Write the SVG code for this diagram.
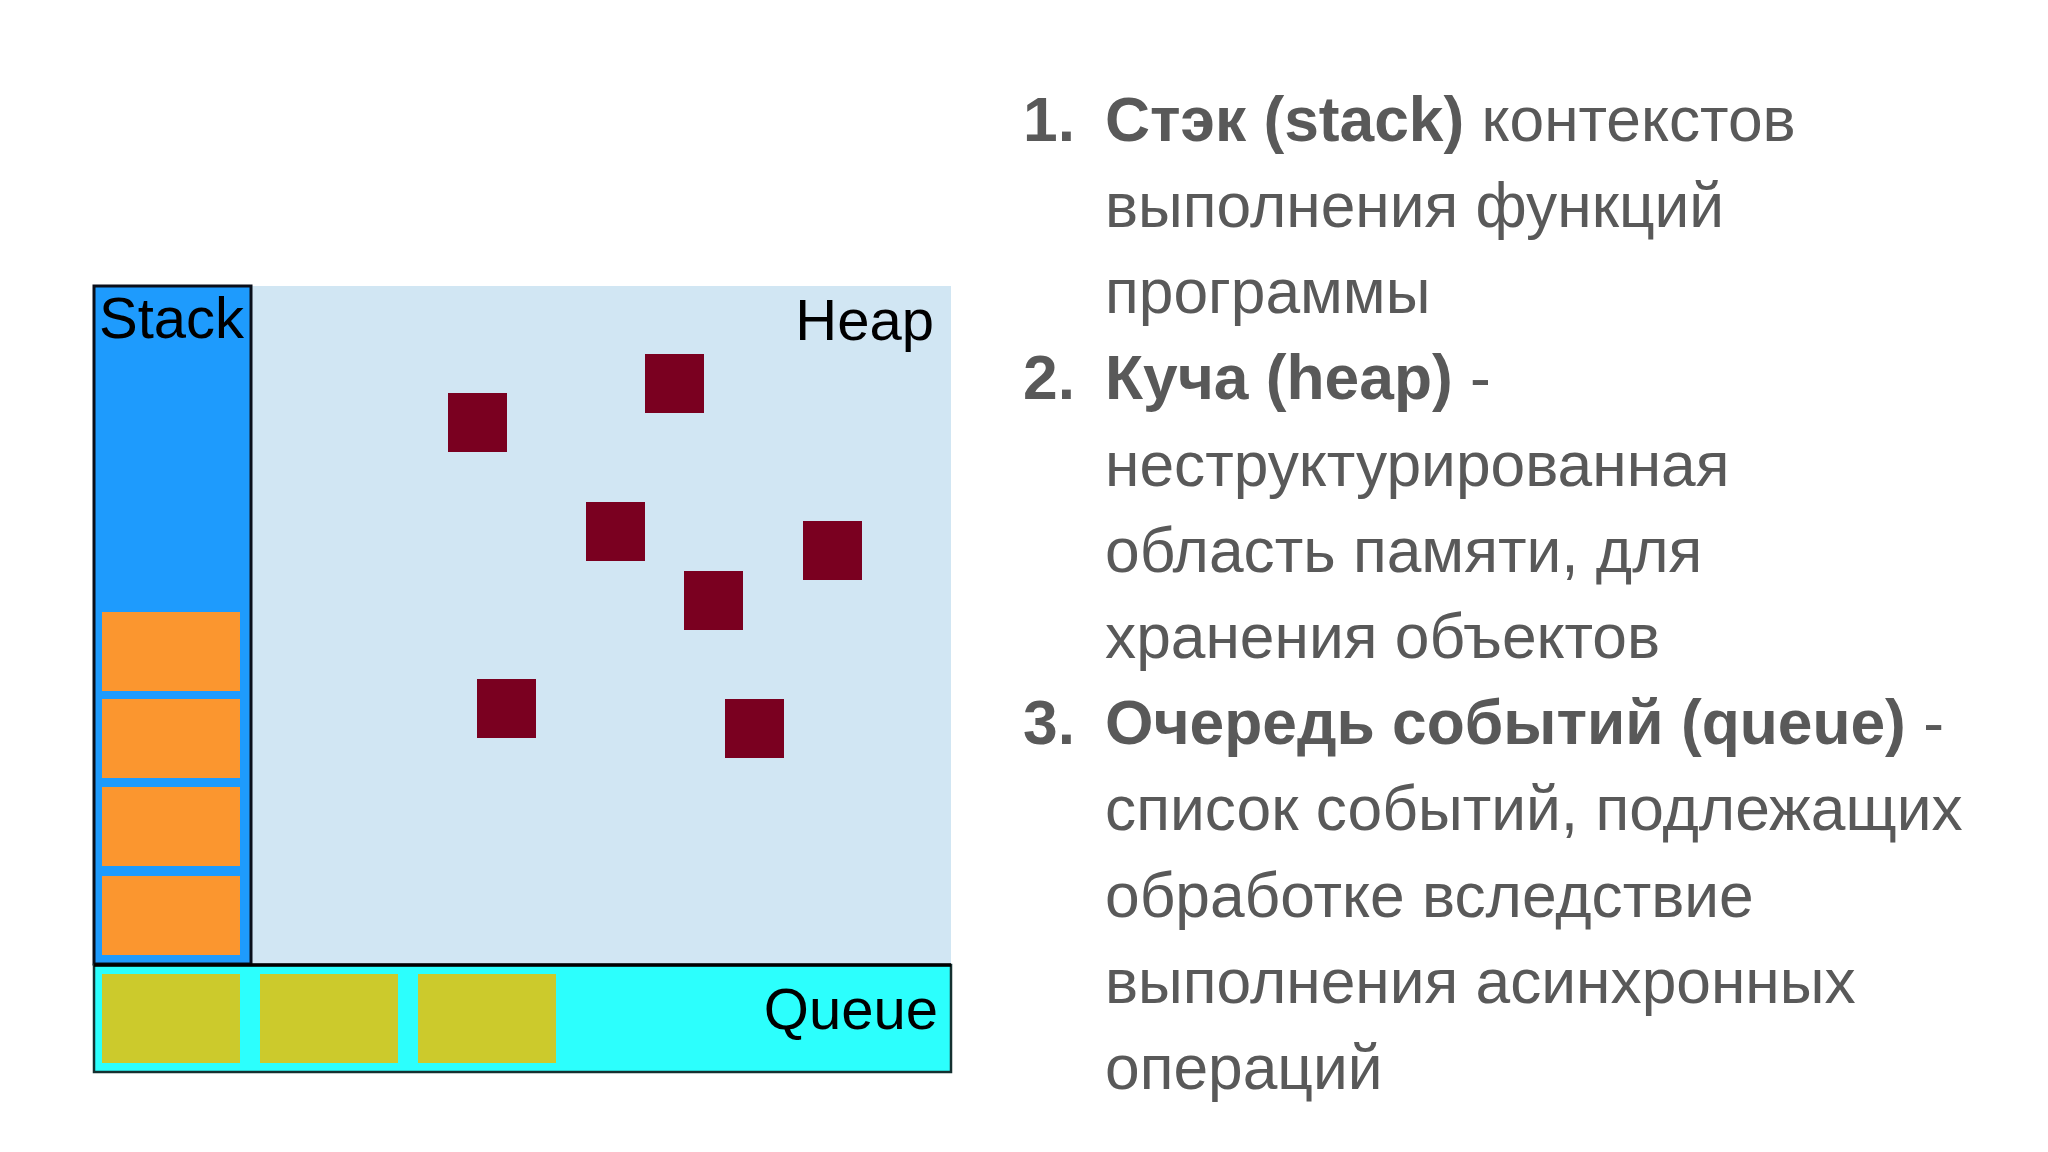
<svg xmlns="http://www.w3.org/2000/svg" width="2048" height="1152" viewBox="0 0 2048 1152">
<style>
  .lbl { font-family: "Liberation Sans", Arial, sans-serif; font-size: 58px; fill: #000; }
  .txt { font-family: "Liberation Sans", Arial, sans-serif; font-size: 62.3px; fill: #595959; }
  .b { font-weight: bold; }
  .frame { fill: #FB962F; }
  .obj { fill: #7A0020; }
  .ev { fill: #CCCA2C; }
</style>
<rect width="2048" height="1152" fill="#FFFFFF"/>

<g id="heap">
  <rect x="251" y="286" width="700" height="678" fill="#D1E6F3"/>
  <text class="lbl" x="934" y="340" text-anchor="end">Heap</text>
  <rect class="obj" x="448" y="393" width="59" height="59"/>
  <rect class="obj" x="645" y="354" width="59" height="59"/>
  <rect class="obj" x="586" y="502" width="59" height="59"/>
  <rect class="obj" x="803" y="521" width="59" height="59"/>
  <rect class="obj" x="684" y="571" width="59" height="59"/>
  <rect class="obj" x="477" y="679" width="59" height="59"/>
  <rect class="obj" x="725" y="699" width="59" height="59"/>
</g>

<g id="stack">
  <rect x="94" y="286" width="157" height="678" fill="#1E9BFD" stroke="#0A0F1A" stroke-width="3"/>
  <text class="lbl" x="99" y="338">Stack</text>
  <rect class="frame" x="102" y="612" width="138" height="79"/>
  <rect class="frame" x="102" y="699" width="138" height="79"/>
  <rect class="frame" x="102" y="787" width="138" height="79"/>
  <rect class="frame" x="102" y="876" width="138" height="79"/>
</g>

<g id="queue">
  <rect x="94" y="965" width="857" height="107" fill="#2CFFFD" stroke="#143030" stroke-width="2.5"/>
  <line x1="94" y1="965" x2="951" y2="965" stroke="#000" stroke-width="3.5"/>
  <rect class="ev" x="102" y="974" width="138" height="89"/>
  <rect class="ev" x="260" y="974" width="138" height="89"/>
  <rect class="ev" x="418" y="974" width="138" height="89"/>
  <text class="lbl" x="938" y="1029" text-anchor="end">Queue</text>
</g>

<g id="connectors"></g>

<g id="description">
  <text class="txt b" x="1023" y="141">1.</text>
  <text class="txt" x="1105" y="141"><tspan class="b">Стэк (stack)</tspan> контекстов</text>
  <text class="txt" x="1105" y="227">выполнения функций</text>
  <text class="txt" x="1105" y="313">программы</text>
  <text class="txt b" x="1023" y="399">2.</text>
  <text class="txt" x="1105" y="399"><tspan class="b">Куча (heap)</tspan> -</text>
  <text class="txt" x="1105" y="486">неструктурированная</text>
  <text class="txt" x="1105" y="572">область памяти, для</text>
  <text class="txt" x="1105" y="658">хранения объектов</text>
  <text class="txt b" x="1023" y="744">3.</text>
  <text class="txt" x="1105" y="744"><tspan class="b">Очередь событий (queue)</tspan> -</text>
  <text class="txt" x="1105" y="830">список событий, подлежащих</text>
  <text class="txt" x="1105" y="917">обработке вследствие</text>
  <text class="txt" x="1105" y="1003">выполнения асинхронных</text>
  <text class="txt" x="1105" y="1089">операций</text>
</g>
</svg>
